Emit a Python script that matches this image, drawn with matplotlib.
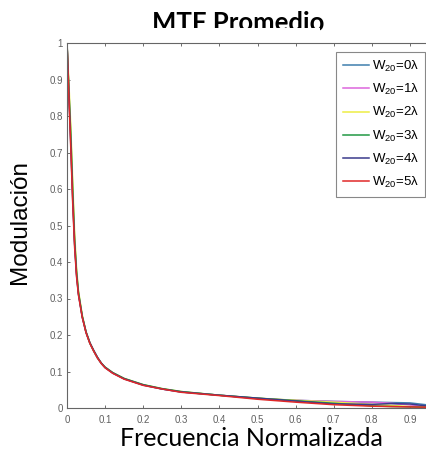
import numpy as np
import matplotlib
matplotlib.use("Agg")
import matplotlib.pyplot as plt
from matplotlib.patches import Rectangle

plt.rcParams['mathtext.default'] = 'regular'

# ------------------------------ DATA ----------------------------------------
freq = [0, 0.005, 0.01, 0.015, 0.02, 0.025, 0.03, 0.04, 0.05, 0.06, 0.07, 0.08, 0.09,
        0.1, 0.12, 0.15, 0.2, 0.25, 0.3, 0.4, 0.5, 0.6, 0.7, 0.8, 0.85, 0.9, 0.95, 1.0]

mtf_w0 = [1, 0.87, 0.73, 0.58, 0.45, 0.37, 0.315, 0.25, 0.207, 0.178, 0.156, 0.137, 0.122,
          0.111, 0.096, 0.080, 0.063, 0.052, 0.044, 0.035, 0.026, 0.021, 0.018, 0.016,
          0.015, 0.014, 0.008, 0.0]
mtf_w1 = [1, 0.87, 0.74, 0.59, 0.46, 0.37, 0.315, 0.25, 0.207, 0.178, 0.156, 0.137, 0.122,
          0.111, 0.096, 0.080, 0.063, 0.052, 0.044, 0.035, 0.026, 0.021, 0.018, 0.016,
          0.013, 0.008, 0.003, 0.0]
mtf_w2 = [1, 0.89, 0.77, 0.62, 0.48, 0.385, 0.322, 0.255, 0.209, 0.179, 0.157, 0.138, 0.123,
          0.112, 0.097, 0.081, 0.064, 0.053, 0.045, 0.035, 0.027, 0.021, 0.016, 0.010,
          0.007, 0.004, 0.002, 0.0]
mtf_w3 = [1, 0.87, 0.75, 0.60, 0.46, 0.375, 0.318, 0.252, 0.208, 0.178, 0.157, 0.138, 0.123,
          0.112, 0.097, 0.081, 0.064, 0.053, 0.045, 0.035, 0.027, 0.020, 0.013, 0.006,
          0.004, 0.003, 0.002, 0.0]
mtf_w4 = [1, 0.86, 0.72, 0.57, 0.45, 0.365, 0.312, 0.25, 0.208, 0.179, 0.158, 0.139, 0.123,
          0.111, 0.096, 0.080, 0.063, 0.052, 0.044, 0.035, 0.027, 0.019, 0.011, 0.010,
          0.012, 0.011, 0.005, 0.0]
mtf_w5 = [1, 0.85, 0.71, 0.56, 0.44, 0.36, 0.31, 0.248, 0.206, 0.177, 0.156, 0.137, 0.122,
          0.110, 0.095, 0.079, 0.062, 0.052, 0.043, 0.034, 0.024, 0.016, 0.009, 0.005,
          0.004, 0.003, 0.002, 0.0]

series = [mtf_w0, mtf_w1, mtf_w2, mtf_w3, mtf_w4, mtf_w5]
labels = [r'W$_{20}$=%d' % k + 'λ' for k in range(6)]
colors = ['#3f7fae', '#dd66dd', '#eeee44', '#229944', '#3a3a8c', '#e02828']

x_ticks = [0, 0.1, 0.2, 0.3, 0.4, 0.5, 0.6, 0.7, 0.8, 0.9]
x_ticklabels = ['0', '0.1', '0.2', '0.3', '0.4', '0.5', '0.6', '0.7', '0.8', '0.9']
y_ticks = [0, 0.1, 0.2, 0.3, 0.4, 0.5, 0.6, 0.7, 0.8, 0.9, 1]
y_ticklabels = ['0', '0.1', '0.2', '0.3', '0.4', '0.5', '0.6', '0.7', '0.8', '0.9', '1']
# ---------------------------------------------------------------------------

W, H = 427, 466
fig = plt.figure(figsize=(W / 100, H / 100), dpi=100)
fig.patch.set_facecolor('white')

# axes runs past the right edge (reference is cropped there)
ax = fig.add_axes([67 / W, (H - 408) / H, (448 - 67) / W, (408 - 43) / H])

for vals, lab, col in zip(series, labels, colors):
    ax.plot(freq, vals, color=col, linewidth=1.1, label=lab)

ax.set_xlim(0, 1)
ax.set_ylim(0, 1)
ax.set_xticks(x_ticks)
ax.set_xticklabels(x_ticklabels)
ax.set_yticks(y_ticks)
ax.set_yticklabels(y_ticklabels)
ax.tick_params(direction='in', top=True, right=True, length=2.5, width=0.6,
               color='#555555', labelsize=7, labelcolor='#606060', pad=3)
ax.tick_params(axis='x', pad=5)
for lab in ax.get_xticklabels() + ax.get_yticklabels():
    lab.set_family('Liberation Sans')
for sp in ax.spines.values():
    sp.set_color('#666666')
    sp.set_linewidth(0.8)

leg = ax.legend(loc='upper left', bbox_to_anchor=(336 / W, (H - 52) / H),
                bbox_transform=fig.transFigure, borderaxespad=0,
                prop={'family': 'Liberation Sans', 'size': 9.5},
                fancybox=False, framealpha=1, edgecolor='#888888',
                labelspacing=0.62, handlelength=2.0, handletextpad=0.2,
                borderpad=0.5)
leg.get_frame().set_linewidth(0.8)

fig.text(20 / W, (H - 222) / H, 'Modulación', rotation=90, ha='center', va='center',
         family='Liberation Sans', fontsize=17.5)
fig.text(251 / W, (H - 438) / H, 'Frecuencia Normalizada', ha='center', va='center',
         family='Lato', fontsize=18)

fig.text(238 / W, (H - 31) / H, 'MTF Promedio', ha='center', va='baseline',
         family='Lato', fontweight='bold', fontsize=18.5)
# the reference title is cut off at its bottom
fig.patches.append(Rectangle((0.25, (H - 38) / H), 0.5, 10 / H,
                             transform=fig.transFigure, facecolor='white',
                             edgecolor='none', zorder=10))

fig.savefig('out.png', dpi=100)
